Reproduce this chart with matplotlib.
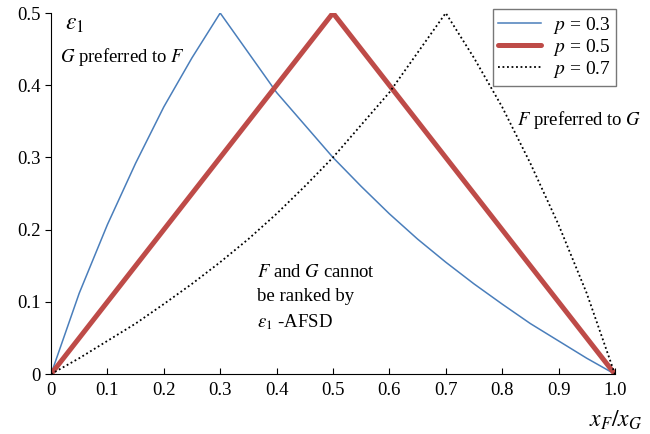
import matplotlib
matplotlib.use("Agg")
import matplotlib.pyplot as plt

plt.rcParams['font.family'] = ['Liberation Serif', 'DejaVu Serif']
plt.rcParams['mathtext.fontset'] = 'stix'

# x values (ratio x_F / x_G)
x = [0, 0.05, 0.1, 0.15, 0.2, 0.25, 0.3, 0.35, 0.4, 0.45, 0.5,
     0.55, 0.6, 0.65, 0.7, 0.75, 0.8, 0.85, 0.9, 0.95, 1.0]

# epsilon_1 for each p
eps_p03 = [0, 0.112, 0.207, 0.292, 0.37, 0.438, 0.5, 0.445, 0.39, 0.345, 0.30,
           0.26, 0.222, 0.187, 0.155, 0.125, 0.097, 0.07, 0.046, 0.022, 0]
eps_p05 = [0, 0.05, 0.1, 0.15, 0.2, 0.25, 0.3, 0.35, 0.4, 0.45, 0.5,
           0.45, 0.4, 0.35, 0.3, 0.25, 0.2, 0.15, 0.1, 0.05, 0]
eps_p07 = [0, 0.022, 0.046, 0.07, 0.097, 0.125, 0.155, 0.187, 0.222, 0.26, 0.30,
           0.345, 0.39, 0.445, 0.5, 0.438, 0.37, 0.292, 0.207, 0.112, 0]

xticks = [0, 0.1, 0.2, 0.3, 0.4, 0.5, 0.6, 0.7, 0.8, 0.9, 1.0]
xticklabels = ["0", "0.1", "0.2", "0.3", "0.4", "0.5", "0.6", "0.7", "0.8", "0.9", "1.0"]
yticks = [0, 0.1, 0.2, 0.3, 0.4, 0.5]
yticklabels = ["0", "0.1", "0.2", "0.3", "0.4", "0.5"]

fig = plt.figure(figsize=(6.5, 4.34), dpi=100)
ax = fig.add_axes([0.0785, 0.138, 0.8675, 0.832])

ax.plot(x, eps_p03, color="#4a7ebb", lw=1.1, label="$p$ = 0.3")
ax.plot(x, eps_p05, color="#be4b48", lw=3.6, solid_capstyle="round", label="$p$ = 0.5")
ax.plot(x, eps_p07, color="black", lw=1.3, linestyle=(0, (1, 1.5)), label="$p$ = 0.7")

ax.set_xlim(0, 1.0)
ax.set_ylim(0, 0.5)
ax.set_xticks(xticks)
ax.set_xticklabels(xticklabels)
ax.set_yticks(yticks)
ax.set_yticklabels(yticklabels)
ax.spines['top'].set_visible(False)
ax.spines['right'].set_visible(False)
ax.tick_params(axis='x', direction='in', length=4, labelsize=13.5, pad=6)
ax.tick_params(axis='y', direction='out', length=4, labelsize=13.5)

leg = ax.legend(loc="upper right", bbox_to_anchor=(1.02, 1.038), fontsize=14,
                frameon=True, fancybox=False, edgecolor="#555555",
                handlelength=2.2, handletextpad=0.6, labelspacing=0.05,
                borderpad=0.3)
leg.get_frame().set_linewidth(1.0)

ax.text(0.025, 0.499, r"$\varepsilon_1$", fontsize=17, va="top", ha="left")
ax.text(0.016, 0.439, "$G$ preferred to $F$", fontsize=13.5, va="center", ha="left")
ax.text(0.826, 0.352, "$F$ preferred to $G$", fontsize=13.5, va="center", ha="left")
ax.text(0.365, 0.141, "$F$ and $G$ cannot", fontsize=13.5, va="center", ha="left")
ax.text(0.365, 0.107, "be ranked by", fontsize=13.5, va="center", ha="left")
ax.text(0.365, 0.072, r"$\varepsilon_1$ -AFSD", fontsize=13.5, va="center", ha="left")

fig.text(0.988, 0.032, "$x_F/x_G$", fontsize=17, ha="right", va="center")

fig.savefig("out.png", dpi=100)
